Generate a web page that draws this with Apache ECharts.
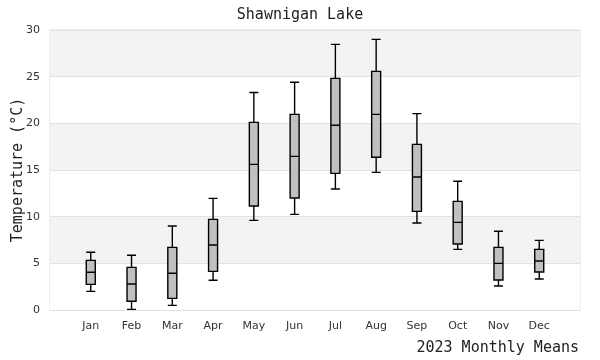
<!DOCTYPE html>
<html>
<head>
<meta charset="utf-8">
<script src="https://cdn.jsdelivr.net/npm/echarts@6/dist/echarts.min.js"></script>
<style>html,body{margin:0;padding:0;background:#fff}#c{width:600px;height:360px}</style>
</head>
<body>
<div id="c"></div>
<script>
const months = ['Jan','Feb','Mar','Apr','May','Jun','Jul','Aug','Sep','Oct','Nov','Dec'];
// [lower whisker, Q1, median, Q3, upper whisker]
const lowWhisker = [2.0, 0.07, 0.5, 3.18, 9.6, 10.25, 12.96, 14.75, 9.32, 6.5, 2.57, 3.32];
const q1 =         [2.75, 0.93, 1.25, 4.14, 11.14, 12.0, 14.64, 16.36, 10.57, 7.07, 3.21, 4.07];
const median =     [4.04, 2.79, 3.93, 6.96, 15.6, 16.46, 19.79, 20.96, 14.25, 9.39, 5.0, 5.25];
const q3 =         [5.32, 4.57, 6.71, 9.71, 20.1, 20.96, 24.82, 25.57, 17.75, 11.64, 6.71, 6.5];
const highWhisker =[6.18, 5.86, 9.0, 11.96, 23.3, 24.4, 28.46, 29.0, 21.04, 13.79, 8.43, 7.46];
const yTicks = [0, 5, 10, 15, 20, 25, 30];

const cats = [''].concat(months).concat(['']);
const boxData = [['-','-','-','-','-']];
for (let i = 0; i < months.length; i++) {
  boxData.push([lowWhisker[i], q1[i], median[i], q3[i], highWhisker[i]]);
}
boxData.push(['-','-','-','-','-']);

const chart = echarts.init(document.getElementById('c'), null, {renderer: 'canvas'});
chart.setOption({
  animation: false,
  backgroundColor: '#fff',
  title: [
    {text: 'Shawnigan Lake', left: 'center', top: 8, padding: 0,
     textStyle: {fontFamily: 'DejaVu Sans Mono', fontSize: 15, fontWeight: 'normal', color: '#222'}},
    {text: '2023 Monthly Means', right: 21, bottom: 4, padding: 0,
     textStyle: {fontFamily: 'DejaVu Sans Mono', fontSize: 15, fontWeight: 'normal', color: '#222'}}
  ],
  grid: {left: 50, right: 20, top: 30, bottom: 50, containLabel: false, outerBoundsMode: 'none',
         show: true, borderColor: '#dddddd', borderWidth: 1, backgroundColor: 'transparent'},
  xAxis: {
    type: 'category', data: cats, boundaryGap: false,
    axisLine: {show: false}, axisTick: {show: false}, splitLine: {show: false},
    axisLabel: {fontFamily: 'DejaVu Sans', fontSize: 11, color: '#333', margin: 11, interval: 0}
  },
  yAxis: {
    type: 'value', min: 0, max: 30, interval: 5,
    name: 'Temperature (°C)', nameLocation: 'middle', nameGap: 24, nameMoveOverlap: false,
    nameTextStyle: {fontFamily: 'DejaVu Sans Mono', fontSize: 15, color: '#222'},
    axisLine: {show: false}, axisTick: {show: false},
    axisLabel: {fontFamily: 'DejaVu Sans', fontSize: 11, color: '#333', margin: 10,
      formatter: v => yTicks.indexOf(v) >= 0 ? String(v) : ''},
    splitLine: {show: true, lineStyle: {color: '#e2e2e2', width: 1}},
    splitArea: {show: true, areaStyle: {color: ['#ffffff', '#f3f3f3']}}
  },
  series: [{
    type: 'boxplot',
    data: boxData,
    boxWidth: [9, 9],
    itemStyle: {color: '#c0c0c0', borderColor: '#000', borderWidth: 1.4}
  }]
});
</script>
</body>
</html>
